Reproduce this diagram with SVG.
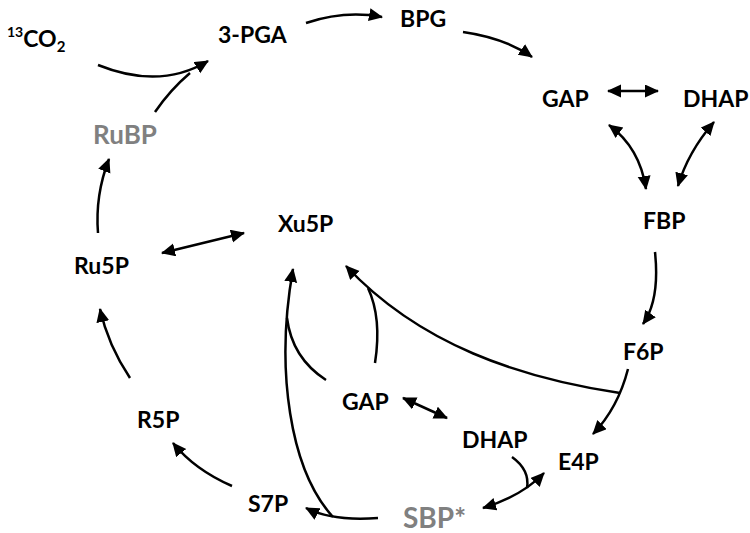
<svg xmlns="http://www.w3.org/2000/svg" width="750" height="533" viewBox="0 0 750 533">
<style>
  .t { font-family: Lato, "Liberation Sans", sans-serif; font-weight: 700; font-size: 23px; fill: #000; }
  .g { fill: #808080; }
  .c path { fill: none; stroke: #000; stroke-width: 2.5; }
  .a { marker-end: url(#ah); }
  .b { marker-start: url(#ah); marker-end: url(#ah); }
</style>
<defs>
  <marker id="ah" markerUnits="userSpaceOnUse" markerWidth="16" markerHeight="14" refX="13" refY="6.5" orient="auto-start-reverse">
    <path d="M0,0 L14,6.5 L0,13 z" fill="#000"/>
  </marker>
</defs>
<rect width="750" height="533" fill="#fff"/>
<g class="c" id="connectors">
  <path class="a" d="M98,65 Q160,90 208,61"/>
  <path d="M155,112 Q170,90 190,73"/>
  <path class="a" d="M306,23 Q345,10 382,17"/>
  <path class="a" d="M463,32 Q505,38 532,57"/>
  <path class="b" d="M608,91 L658,91"/>
  <path class="b" d="M609,125 Q640,148 646,189"/>
  <path class="b" d="M714,122 Q688,152 678,186"/>
  <path class="a" d="M655,252 Q660,300 643,324"/>
  <path class="a" d="M628,369 Q618,408 593,434"/>
  <path class="a" d="M620,393 C520,378 420,345 346,266"/>
  <path d="M375,363 Q382,318 368,288"/>
  <path class="a" d="M333,517 C290,470 275,370 293,269"/>
  <path d="M326,380 Q292,358 287,318"/>
  <path class="a" d="M378,518 C350,520 325,518 306,508"/>
  <path class="b" d="M483,508 Q522,496 544,473"/>
  <path d="M512,457 Q530,470 527,488"/>
  <path class="b" d="M403,398 L447,418"/>
  <path class="b" d="M162,253 L244,233"/>
  <path class="a" d="M130,378 Q108,345 100,309"/>
  <path class="a" d="M232,486 Q195,470 173,443"/>
  <path class="a" d="M98,233 Q95,195 109,159"/>
</g>
<g id="co2"><text class="t" x="7" y="47"><tspan style="font-size:14px" dy="-10">13</tspan><tspan dy="10">CO</tspan><tspan style="font-size:15px" dy="5">2</tspan></text></g>
<g id="pga"><text class="t" x="218" y="43">3-PGA</text></g>
<g id="bpg"><text class="t" x="400" y="27">BPG</text></g>
<g id="gap1"><text class="t" x="542" y="107">GAP</text></g>
<g id="dhap1"><text class="t" x="683" y="107">DHAP</text></g>
<g id="fbp"><text class="t" x="643" y="229">FBP</text></g>
<g id="f6p"><text class="t" x="623" y="360">F6P</text></g>
<g id="e4p"><text class="t" x="558" y="470">E4P</text></g>
<g id="dhap2"><text class="t" x="462" y="448">DHAP</text></g>
<g id="gap2"><text class="t" x="342" y="410">GAP</text></g>
<g id="sbp"><text class="t g" x="403" y="528" style="font-size:28px">SBP*</text></g>
<g id="s7p"><text class="t" x="248" y="512">S7P</text></g>
<g id="r5p"><text class="t" x="137" y="428">R5P</text></g>
<g id="ru5p"><text class="t" x="74" y="274">Ru5P</text></g>
<g id="xu5p"><text class="t" x="278" y="232">Xu5P</text></g>
<g id="rubp"><text class="t g" x="93" y="144" style="font-size:26px">RuBP</text></g>
</svg>
